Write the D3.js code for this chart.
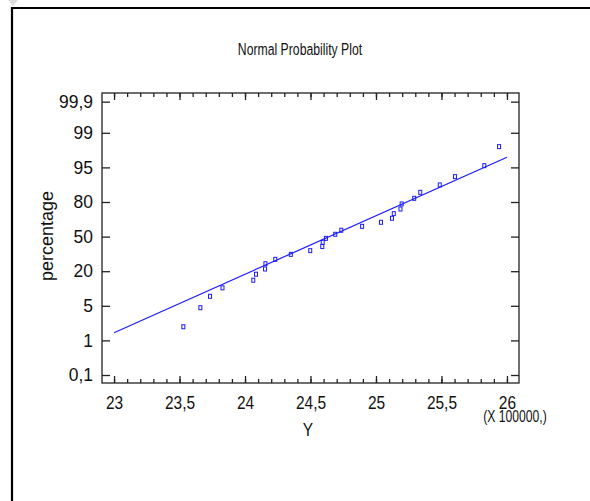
<!DOCTYPE html>
<html>
<head>
<meta charset="utf-8">
<script src="https://cdn.jsdelivr.net/npm/d3@7"></script>
<style>
  body { margin: 0; background: #fff; }
  text { font-family: "Liberation Sans", Arial, sans-serif; fill: #111; }
</style>
</head>
<body>
<div id="chart"></div>
<script>
// data (Y in units of 100000, percentage = plotting position)
var yValues = [23.529, 23.659, 23.733, 23.828, 24.063, 24.084, 24.153, 24.156, 24.231, 24.350,
  24.498, 24.590, 24.593, 24.618, 24.689, 24.735, 24.894, 25.038, 25.122, 25.136,
  25.187, 25.196, 25.292, 25.338, 25.487, 25.603, 25.827, 25.940];
var pctValues = [2.58, 4.78, 9.1, 12.8, 16.1, 18.7, 21.9, 26.5, 30.3, 34.6,
  37.8, 41.4, 45.1, 48.5, 52.0, 55.5, 58.9, 62.4, 65.9, 69.9,
  73.9, 78.3, 81.6, 84.2, 87.4, 91.0, 95.2, 97.4];
// fitted line ends
var lineX = [23, 26];
var linePct = [1.89, 96.17];

var probTicks = [0.1, 1, 5, 20, 50, 80, 95, 99, 99.9];
var probLabels = ["0,1", "1", "5", "20", "50", "80", "95", "99", "99,9"];
var xTicks = [23, 23.5, 24, 24.5, 25, 25.5, 26];
var xLabels = ["23", "23,5", "24", "24,5", "25", "25,5", "26"];
var xMinor = d3.range(0, 31).map(function(i) { return 23 + i / 10; });

var svgWidth = 590, svgHeight = 501;
var plot = { left: 102, right: 519, top: 93, bottom: 383 };

var svg = d3.select("#chart").append("svg")
  .attr("width", svgWidth)
  .attr("height", svgHeight);

// page frame
svg.append("path")
  .attr("d", "M12,501 V8 H590")
  .attr("fill", "none")
  .attr("stroke", "#000")
  .attr("stroke-width", 2.2);
svg.append("path")
  .attr("d", "M8,0 H18 L13,6 Z")
  .attr("fill", "#ddd");

// scales
var x = d3.scaleLinear()
  .domain([22.908, 26.092])
  .range([plot.left, plot.right]);

// probability axis: ticks at (nearly) even steps
var idx = d3.scaleLinear().domain([-0.231, 8.15]).range([plot.bottom, plot.top]);
var y = d3.scaleLinear()
  .domain(probTicks)
  .range([0, 1, 2, 3, 4, 5, 6, 7, 7.9].map(function(d) { return idx(d); }));

// box
svg.append("rect")
  .attr("x", plot.left).attr("y", plot.top)
  .attr("width", plot.right - plot.left).attr("height", plot.bottom - plot.top)
  .attr("fill", "none")
  .attr("stroke", "#222")
  .attr("stroke-width", 1.3);

// narrow-looking labels: squeeze horizontally
function styleAxis(squeeze) {
  return function(g) {
    g.select(".domain").remove();
    g.selectAll("line").attr("stroke", "#222").attr("stroke-width", 1.3);
    g.selectAll("text")
      .attr("font-size", 18)
      .attr("fill", "#111")
      .attr("font-family", "Liberation Sans, Arial, sans-serif")
      .attr("x", function() { return (+d3.select(this).attr("x") || 0) / squeeze; })
      .attr("transform", "scale(" + squeeze + ",1)");
  };
}

// axes
svg.append("g")
  .attr("transform", "translate(" + plot.left + ",0)")
  .call(d3.axisLeft(y).tickValues(probTicks)
    .tickFormat(function(d, i) { return probLabels[i]; })
    .tickSize(-8).tickPadding(9))
  .call(styleAxis(0.97));

svg.append("g")
  .attr("transform", "translate(" + plot.right + ",0)")
  .call(d3.axisRight(y).tickValues(probTicks).tickFormat("").tickSize(-8))
  .call(styleAxis(1));

svg.append("g")
  .attr("transform", "translate(0," + plot.bottom + ")")
  .call(d3.axisBottom(x).tickValues(xMinor).tickFormat("").tickSize(-4))
  .call(styleAxis(1));

svg.append("g")
  .attr("transform", "translate(0," + plot.bottom + ")")
  .call(d3.axisBottom(x).tickValues(xTicks)
    .tickFormat(function(d, i) { return xLabels[i]; })
    .tickSize(-7).tickPadding(13))
  .call(styleAxis(0.86));

svg.append("g")
  .attr("transform", "translate(0," + plot.top + ")")
  .call(d3.axisTop(x).tickValues(xMinor).tickFormat("").tickSize(-4))
  .call(styleAxis(1));

svg.append("g")
  .attr("transform", "translate(0," + plot.top + ")")
  .call(d3.axisTop(x).tickValues(xTicks).tickFormat("").tickSize(-7))
  .call(styleAxis(1));

// fitted line
svg.append("line")
  .attr("x1", x(lineX[0])).attr("y1", y(linePct[0]))
  .attr("x2", x(lineX[1])).attr("y2", y(linePct[1]))
  .attr("stroke", "#1a1aff")
  .attr("stroke-width", 1.2);

// points
svg.selectAll(".pt")
  .data(yValues)
  .enter()
  .append("rect")
  .attr("class", "pt")
  .attr("x", function(d) { return x(d) - 1.5; })
  .attr("y", function(d, i) { return y(pctValues[i]) - 2; })
  .attr("width", 3)
  .attr("height", 4)
  .attr("fill", "none")
  .attr("stroke", "#1a1aff")
  .attr("stroke-width", 1);

// titles
svg.append("text")
  .attr("transform", "translate(300,55) scale(0.72,1)")
  .attr("text-anchor", "middle")
  .attr("font-size", 17)
  .text("Normal Probability Plot");

svg.append("text")
  .attr("transform", "translate(308,436) scale(0.86,1)")
  .attr("text-anchor", "middle")
  .attr("font-size", 18)
  .text("Y");

svg.append("text")
  .attr("transform", "translate(515,422) scale(0.76,1)")
  .attr("text-anchor", "middle")
  .attr("font-size", 16)
  .text("(X 100000,)");

svg.append("text")
  .attr("transform", "translate(53,236) rotate(-90)")
  .attr("text-anchor", "middle")
  .attr("font-size", 18)
  .text("percentage");
</script>
</body>
</html>
